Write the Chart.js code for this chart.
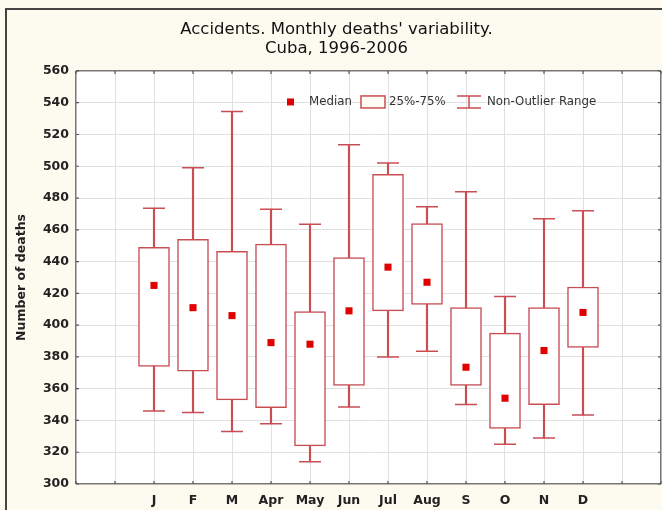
<!DOCTYPE html>
<html>
<head>
<meta charset="utf-8">
<script src="https://cdn.jsdelivr.net/npm/chart.js@4/dist/chart.umd.min.js"></script>
<style>
  html, body { margin: 0; padding: 0; background: #fdfbf0; }
  #wrap { position: relative; width: 662px; height: 510px; overflow: hidden; }
  #frame { position: absolute; left: 5px; top: 8px; width: 700px; height: 600px;
           border-top: 2px solid #444; border-left: 2px solid #444; }
  canvas { position: absolute; left: 0; top: 0; }
</style>
</head>
<body>
<div id="wrap">
  <div id="frame"></div>
  <canvas id="c" width="662" height="510"></canvas>
</div>
<script>
const months = ['J','F','M','Apr','May','Jun','Jul','Aug','S','O','N','D'];
const minVals = [346, 345, 333, 338, 314, 348.5, 380, 383.5, 350, 325, 329, 343.5];
const q1Vals  = [374, 371, 353, 348, 324, 362, 409, 413, 362, 335, 350, 386];
const medVals = [425, 411, 406, 389, 388, 409, 436.5, 427, 373.5, 354, 384, 408];
const q3Vals  = [449, 454, 446.5, 451, 408.5, 442.5, 495, 464, 411, 395, 411, 424];
const maxVals = [473.5, 499, 534.5, 473, 463.5, 513.5, 502, 474.5, 484, 418, 467, 472];
const yTicks = [300, 320, 340, 360, 380, 400, 420, 440, 460, 480, 500, 520, 540, 560];
const titleLines = ["Accidents. Monthly deaths' variability.", "Cuba, 1996-2006"];
const yTitle = 'Number of deaths';
const legendItems = ['Median', '25%-75%', 'Non-Outlier Range'];

const padSlots = 2;
const labels = [...Array(padSlots).fill(''), ...months, ...Array(padSlots).fill('')];
const pad = arr => [...Array(padSlots).fill(null), ...arr, ...Array(padSlots).fill(null)];

const RED = 'rgb(200,78,84)';
const MED = '#e00000';
const FONT = "'DejaVu Sans', Verdana, sans-serif";

const chartBg = {
  id: 'chartBg',
  beforeDraw(chart) {
    const {ctx, chartArea: a} = chart;
    ctx.save();
    ctx.fillStyle = '#ffffff';
    ctx.fillRect(a.left, a.top, a.right - a.left, a.bottom - a.top);
    ctx.restore();
  }
};

const tickMarks = {
  id: 'tickMarks',
  afterDatasetsDraw(chart) {
    const {ctx, chartArea: a, scales} = chart;
    ctx.save();
    ctx.strokeStyle = '#555';
    ctx.lineWidth = 1.2;
    ctx.beginPath();
    scales.x.ticks.forEach((t, i) => {
      const px = scales.x.getPixelForTick(i);
      ctx.moveTo(px, a.bottom); ctx.lineTo(px, a.bottom - 3);
      ctx.moveTo(px, a.top); ctx.lineTo(px, a.top + 3);
    });
    scales.y.ticks.forEach((t) => {
      const py = scales.y.getPixelForValue(t.value);
      ctx.moveTo(a.left, py); ctx.lineTo(a.left + 3, py);
      ctx.moveTo(a.right, py); ctx.lineTo(a.right - 3, py);
    });
    ctx.stroke();
    ctx.restore();
  }
};

const legendPlugin = {
  id: 'customLegend',
  afterDatasetsDraw(chart) {
    const {ctx, chartArea: a} = chart;
    const y = a.top + 31;
    ctx.save();
    ctx.font = "11.8px " + FONT;
    ctx.textBaseline = 'middle';
    ctx.fillStyle = MED;
    ctx.fillRect(287, y - 3.5, 7, 7);
    ctx.fillStyle = '#333';
    ctx.fillText(legendItems[0], 309, y);
    ctx.strokeStyle = RED;
    ctx.lineWidth = 1.5;
    ctx.fillStyle = '#fffdf4';
    ctx.fillRect(361, y - 6, 24, 12);
    ctx.strokeRect(361, y - 6, 24, 12);
    ctx.fillStyle = '#333';
    ctx.fillText(legendItems[1], 389, y);
    ctx.beginPath();
    ctx.moveTo(457, y - 6); ctx.lineTo(481, y - 6);
    ctx.moveTo(457, y + 6); ctx.lineTo(481, y + 6);
    ctx.moveTo(469, y - 6); ctx.lineTo(469, y + 6);
    ctx.stroke();
    ctx.fillText(legendItems[2], 487, y);
    ctx.restore();
  }
};

const isEdgeX = c => c.index === 0 || c.index === labels.length - 1;
const isEdgeY = c => c.tick && (c.tick.value === 560 || c.tick.value === 300);

new Chart(document.getElementById('c'), {
  type: 'bar',
  data: {
    labels: labels,
    datasets: [
      {
        type: 'bar', label: 'whisker',
        data: pad(months.map((m, i) => [minVals[i], maxVals[i]])),
        backgroundColor: RED, borderWidth: 0, barThickness: 1.5,
        grouped: false, order: 4
      },
      {
        type: 'bar', label: 'box',
        data: pad(months.map((m, i) => [q1Vals[i], q3Vals[i]])),
        backgroundColor: '#ffffff', borderColor: RED, borderWidth: 1.5,
        borderSkipped: false, barThickness: 31, grouped: false, order: 3
      },
      {
        type: 'line', label: 'capMin', data: pad(minVals), showLine: false,
        pointStyle: 'line', pointRadius: 11, pointBorderWidth: 1.5,
        borderColor: RED, order: 2
      },
      {
        type: 'line', label: 'capMax', data: pad(maxVals), showLine: false,
        pointStyle: 'line', pointRadius: 11, pointBorderWidth: 1.5,
        borderColor: RED, order: 2
      },
      {
        type: 'line', label: 'median', data: pad(medVals), showLine: false,
        pointStyle: 'rect', pointRadius: 5, pointBorderWidth: 0,
        pointBackgroundColor: MED, borderColor: MED, order: 1
      }
    ]
  },
  options: {
    responsive: false,
    animation: false,
    events: [],
    layout: { autoPadding: false, padding: { left: 12, right: 1, top: 0, bottom: 0 } },
    plugins: {
      legend: { display: false },
      tooltip: { enabled: false },
      title: {
        display: true,
        text: titleLines,
        color: '#111',
        font: { family: FONT, size: 16.5, weight: 'normal', lineHeight: 1.15 },
        padding: { top: 20, bottom: 13 }
      }
    },
    scales: {
      x: {
        type: 'category',
        offset: false,
        grid: { offset: false, color: c => isEdgeX(c) ? '#777' : '#e0e0e0',
                lineWidth: c => isEdgeX(c) ? 1.5 : 1, drawTicks: false },
        border: { display: false },
        ticks: {
          autoSkip: false, maxRotation: 0, padding: 9,
          color: '#222', font: { family: FONT, size: 12.5, weight: 'bold' }
        },
        afterFit(s) { s.height = 26; s.paddingLeft = 0; s.paddingRight = 0; }
      },
      y: {
        min: 300, max: 560,
        afterBuildTicks(s) { s.ticks = yTicks.map(v => ({ value: v })); },
        grid: { color: c => isEdgeY(c) ? '#777' : '#e0e0e0',
                lineWidth: c => isEdgeY(c) ? 1.5 : 1, drawTicks: false },
        border: { display: false },
        ticks: {
          padding: 7,
          color: '#222', font: { family: FONT, size: 12.5, weight: 'bold' }
        },
        title: {
          display: true, text: yTitle, color: '#222',
          font: { family: FONT, size: 12.5, weight: 'bold' },
          padding: { top: 2, bottom: 0 }
        },
        afterFit(s) { s.width = 64; }
      }
    }
  },
  plugins: [chartBg, tickMarks, legendPlugin]
});
</script>
</body>
</html>
